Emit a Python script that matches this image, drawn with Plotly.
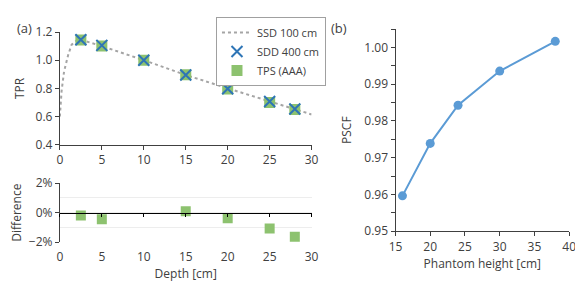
import plotly.graph_objects as go

# ---- data ----
ssd_depth = [0, 0.2, 0.5, 0.8, 1.0, 1.4, 2.0, 2.5, 5, 10, 15, 20, 25, 28, 30]
ssd_tpr = [0.60, 0.78, 0.92, 0.99, 1.04, 1.11, 1.14, 1.145, 1.10, 1.0, 0.895, 0.80, 0.71, 0.655, 0.615]

pt_depth = [2.5, 5, 10, 15, 20, 25, 28]
sdd_tpr = [1.145, 1.105, 1.0, 0.895, 0.797, 0.707, 0.654]
tps_tpr = [1.143, 1.100, 1.0, 0.896, 0.795, 0.700, 0.650]

diff_depth = [2.5, 5, 15, 20, 25, 28]
diff_val = [-0.0020, -0.0045, 0.0010, -0.0038, -0.0108, -0.0163]

ph_height = [16, 20, 24, 30, 38]
pscf = [0.9596, 0.9739, 0.9843, 0.9936, 1.0017]

# page body has an 8px margin: size the figure so it fits the window
OFF = 8
W, H = 583 - OFF, 287 - OFF
def px(x): return (x - OFF) / W
def py(y): return 1 - (y - OFF) / H

FONT = "Open Sans"
FS = 12
TXT = "#404040"
AX = "#404040"
BLUE = "#2E75B6"
GREEN = "#8DC26F"
LBLUE = "#5B9BD5"

fig = go.Figure()

fig.add_trace(go.Scatter(x=ssd_depth, y=ssd_tpr, mode="lines", name="SSD 100 cm",
                         line=dict(color="#A5A5A5", width=2, dash="dot"),
                         xaxis="x", yaxis="y", legendrank=1))
fig.add_trace(go.Scatter(x=pt_depth, y=tps_tpr, mode="markers", name="TPS (AAA)",
                         marker=dict(symbol="square", size=11, color=GREEN),
                         xaxis="x", yaxis="y", legendrank=3))
fig.add_trace(go.Scatter(x=pt_depth, y=sdd_tpr, mode="markers", name="SDD 400 cm",
                         marker=dict(symbol="x-thin", size=11, color=BLUE,
                                     line=dict(color=BLUE, width=2)),
                         xaxis="x", yaxis="y", legendrank=2))

fig.add_trace(go.Scatter(x=diff_depth, y=diff_val, mode="markers", showlegend=False,
                         marker=dict(symbol="square", size=10, color=GREEN),
                         xaxis="x2", yaxis="y2"))
fig.add_trace(go.Scatter(x=[None], y=[None], mode="markers", showlegend=False,
                         xaxis="x3", yaxis="y2"))

fig.add_trace(go.Scatter(x=ph_height, y=pscf, mode="lines+markers", showlegend=False,
                         line=dict(color=LBLUE, width=2),
                         marker=dict(symbol="circle", size=9, color=LBLUE),
                         xaxis="x4", yaxis="y4"))

tickfont = dict(family=FONT, size=FS, color=TXT)
titlefont = dict(family=FONT, size=FS, color=TXT)
common = dict(showgrid=False, zeroline=False, showline=True, linecolor=AX, linewidth=1,
              ticks="outside", ticklen=4, tickcolor=AX, tickfont=tickfont)

top_dom = [py(144), py(24)]
bot_dom = [py(247.7), py(185)]
xdom_a = [px(54), px(312)]

fig.update_layout(
    width=W, height=H, margin=dict(l=0, r=0, t=0, b=0),
    paper_bgcolor="white", plot_bgcolor="white",
    font=dict(family=FONT, size=FS, color=TXT),
    xaxis=dict(domain=xdom_a, range=[0, 30], dtick=5, anchor="y", **common),
    yaxis=dict(domain=top_dom, range=[0.4, 1.2], dtick=0.2, tickformat=".1f", anchor="x",
               title=dict(text="TPR", font=titlefont, standoff=8),
               **common),
    xaxis2=dict(domain=xdom_a, range=[0, 30], dtick=5, anchor="y2",
                showgrid=False, zeroline=False, showline=False, ticks="",
                tickfont=tickfont, ticklabelstandoff=6,
                title=dict(text="Depth [cm]", font=titlefont, standoff=0)),
    xaxis3=dict(domain=xdom_a, range=[0, 30], dtick=5, overlaying="x2", anchor="free",
                position=(bot_dom[0] + bot_dom[1]) / 2, showline=True, linecolor="#000000",
                linewidth=1, ticks="outside", ticklen=3, tickcolor="#000000",
                showticklabels=False, showgrid=False, zeroline=False),
    yaxis2=dict(domain=bot_dom, range=[-0.02, 0.02], dtick=0.02, tickformat=".0%", anchor="x2",
                showgrid=True, gridcolor="#EDEDED", gridwidth=1,
                minor=dict(dtick=0.01, showgrid=True, gridcolor="#EDEDED", ticks=""),
                zeroline=False, showline=True, linecolor=AX, ticks="outside", ticklen=4,
                tickcolor=AX, tickfont=tickfont,
                title=dict(text="Difference", font=titlefont, standoff=4)),
    xaxis4=dict(domain=[px(398), px(576)], range=[15, 40], dtick=5, anchor="y4",
                title=dict(text="Phantom height [cm]", font=titlefont, standoff=6),
                **common),
    yaxis4=dict(domain=[py(236), py(21)], range=[0.95, 1.005], tick0=0.95, dtick=0.01,
                tickformat=".2f", anchor="x4",
                minor=dict(dtick=0.005, ticks="outside", ticklen=4, tickcolor=AX),
                title=dict(text="PSCF", font=titlefont, standoff=10),
                **common),
    legend=dict(x=px(214), y=1, xanchor="left", yanchor="top",
                bordercolor="#A0A0A0", borderwidth=1, bgcolor="white",
                font=dict(family=FONT, size=11, color=TXT),
                tracegroupgap=0, itemwidth=30),
    annotations=[
        dict(text="(a)", x=0, y=1, xref="paper", yref="paper", xanchor="left",
             yanchor="top", showarrow=False, font=dict(family=FONT, size=13, color=TXT)),
        dict(text="(b)", x=px(330), y=1, xref="paper", yref="paper", xanchor="left",
             yanchor="top", showarrow=False, font=dict(family=FONT, size=13, color=TXT)),
    ],
)

fig.write_html("out.html")
